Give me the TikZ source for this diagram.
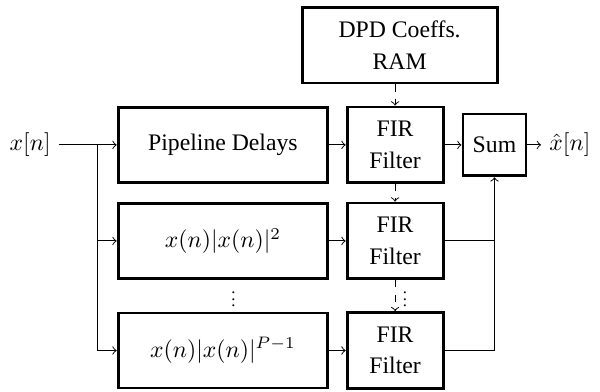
\documentclass[tikz,border=0pt]{standalone}
\usepackage[no-math]{fontspec}
\setmainfont{Liberation Serif}

\begin{document}
\begin{tikzpicture}[->,auto,node distance=2cm,thin,
  block node/.style={draw,very thick,minimum width=88.4pt,minimum height=31.6pt},
  fir node/.style={draw,very thick,align=center,minimum width=40.5pt,minimum height=32pt},
  sum node/.style={draw,very thick,minimum width=26.6pt,minimum height=26.1pt},
  dots node/.style={anchor=base,scale=0.7,inner sep=0pt}]

  \useasboundingbox (0,0) rectangle (253pt,-164.9pt);

  \node[block node] (pipe) at (94pt,-61.1pt) {Pipeline Delays};
  \node[fir node] (fir1) [right of=pipe, node distance=72.6pt] {FIR\\[1.2pt]Filter};
  \node[sum node] (sum) [right of=fir1, node distance=41.9pt] {Sum};
  \node[fir node,minimum width=82.2pt] (ram) [above of=fir1, node distance=42.1pt, xshift=1.9pt] {DPD Coeffs.\\[1.2pt]RAM};

  \node[block node] (pow2) [below of=pipe, node distance=40.5pt] {$x(n)|x(n)|^2$};
  \node[fir node] (fir2) [right of=pow2, node distance=72.6pt] {FIR\\[1.2pt]Filter};
  \node[block node] (powP) [below of=pow2, node distance=46.2pt] {$x(n)|x(n)|^{P-1}$};
  \node[fir node] (fir3) [right of=powP, node distance=72.6pt] {FIR\\[1.2pt]Filter};

  \node[] (xin) [left of=pipe, node distance=81.3pt] {$x[n]$};
  \node[] (xout) [right of=sum, node distance=31.8pt] {$\hat{x}[n]$};
  \node[coordinate] (split) [left of=pipe, node distance=52.7pt] {};

  \node[dots node] (vdots1) at (98.4pt,-129.3pt) {$\vdots$};
  \node[dots node] (vdots2) at (170.8pt,-129.3pt) {$\vdots$};

  % input side
  \draw (xin) -- (pipe);
  \draw (split) |- (pow2);
  \draw (split) |- (powP);
  \draw (pipe) -- (fir1);
  \draw (pow2) -- (fir2);
  \draw (powP) -- (fir3);

  % coefficients
  \draw[dashed] (ram.south -| fir1) -- (fir1);
  \draw[dashed] (fir1) -- (fir2);
  \draw[dashed] (fir2) -- (fir3);

  % summing
  \draw (fir1) -- (sum);
  \draw[-] (fir2) -- (fir2 -| sum);
  \draw (fir3) -| (sum);
  \draw (sum) -- (xout);

\end{tikzpicture}
\end{document}
